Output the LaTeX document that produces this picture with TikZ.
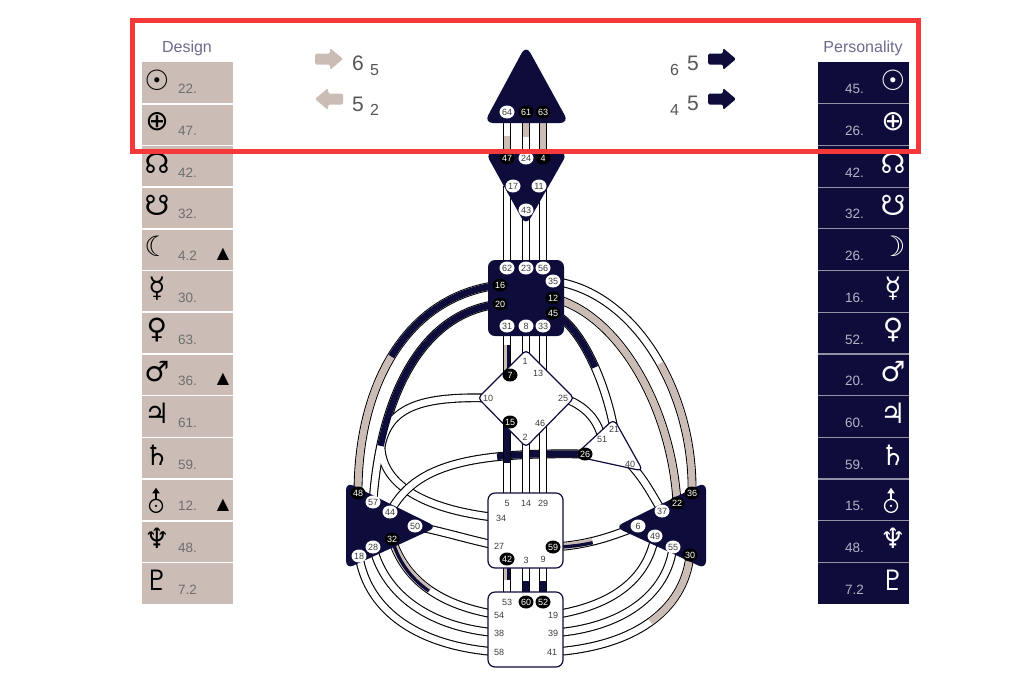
\documentclass[tikz,border=0pt]{standalone}
\usepackage{fontspec}
\setmainfont{Liberation Sans}
\newfontfamily\symfont{DejaVu Sans}
\usetikzlibrary{shapes.geometric}

\definecolor{navy}{HTML}{0D0C3B}
\definecolor{dtan}{HTML}{CBBDB5}
\definecolor{redbox}{HTML}{F5383A}
\definecolor{hdrgray}{HTML}{6C6B8C}
\definecolor{dnumgray}{HTML}{6E6E6E}
\definecolor{pnumgray}{HTML}{B4B3C6}
\definecolor{gatetext}{HTML}{3C3C3C}
\definecolor{arrowtext}{HTML}{555555}

\tikzset{
  tube/.style={line width=1.1pt, double=white, double distance=6.6pt},
  pfill/.style={navy, line width=6.6pt},
  dfill/.style={dtan, line width=6.6pt},
  pstripe/.style={navy, line width=3.3pt},
  dstripe/.style={dtan, line width=3.3pt},
  opencentre/.style={fill=white, draw=navy, line width=1.2pt},
  gatefont/.style={font=\fontsize{9}{10}\selectfont},
  gw/.style={ellipse, fill=white, minimum width=15pt, minimum height=13pt, inner sep=0pt, text=gatetext, gatefont},
  gb/.style={gw, fill=black, text=white},
  gt/.style={inner sep=0pt, text=gatetext, gatefont},
  hdr/.style={text=hdrgray, font=\fontsize{16}{18}\selectfont, anchor=base, inner sep=0pt},
  dsym/.style={text=black, font=\symfont\fontsize{28}{30}\selectfont, inner sep=0pt},
  psym/.style={text=white, font=\symfont\fontsize{28}{30}\selectfont, inner sep=0pt},
  dnum/.style={text=dnumgray, font=\fontsize{13.5}{15}\selectfont, anchor=base west, inner sep=0pt},
  pnum/.style={text=pnumgray, font=\fontsize{13.5}{15}\selectfont, anchor=base east, inner sep=0pt},
  tri/.style={font=\symfont\fontsize{16}{17}\selectfont, inner sep=0pt},
  anum/.style={text=arrowtext, font=\fontsize{21}{22}\selectfont, anchor=base west, inner sep=0pt},
  asub/.style={text=arrowtext, font=\fontsize{16}{17}\selectfont, anchor=base west, inner sep=0pt},
}

\begin{document}
\begin{tikzpicture}[x=1pt,y=-1pt]
\useasboundingbox (0,0) rectangle (1024,683);

% gate positions
\foreach \g/\x/\y in {64/507/112, 61/526/112, 63/543/112,
  47/507/158, 24/526/158, 4/543/158, 17/513/186, 11/539/186, 43/526/210,
  62/507/268, 23/526/268, 56/543/268, 35/553/281, 16/500/285, 12/553/298,
  20/500/304, 45/553/313, 31/507/326, 8/526/326, 33/543/326,
  1/525/361, 7/510/375, 13/538/373, 10/488/398, 25/563/398, 15/510/422,
  46/540/423, 2/525/437,
  21/614/429, 51/602/439, 26/585/454, 40/630/464,
  5/507/503, 14/526/503, 29/543/503, 34/501/518, 27/499/546, 42/507/559,
  3/526/560, 9/543/559, 59/553/547,
  53/507/602, 60/526/602, 52/543/602, 54/499/615, 19/553/615, 38/499/633,
  39/553/633, 58/499/652, 41/552/652,
  48/358/493, 57/373/502, 44/390/512, 50/415/526, 32/392/539, 28/373/547, 18/359/556,
  36/692/493, 22/677/503, 37/662/511, 6/638/526, 49/655/536, 55/673/547, 30/690/555}
  \coordinate (c\g) at (\x,\y);
\coordinate (jl) at (381,447);

% channels, left side
\draw[tube] (c16) .. controls (410,295) and (358,380) .. (c48);
\draw[dfill] (c16) .. controls (410,295) and (358,380) .. (c48);
\draw[pfill, dash pattern=on 135pt off 2000pt] (c16) .. controls (410,295) and (358,380) .. (c48);

\foreach \w/\col in {8.8/black,6.6/white}{
  \draw[\col, line width=\w pt] (c20) .. controls (420,312) and (380,400) .. (c57);
  \draw[\col, line width=\w pt] (c10) .. controls (415,396) and (388,410) .. (jl);
  \draw[\col, line width=\w pt] (jl) .. controls (383,492) and (440,512) .. (c34);
}
\draw[pfill, dash pattern=on 199pt off 2000pt] (c20) .. controls (420,312) and (380,400) .. (c57);

\draw[tube] (c44) .. controls (415,465) and (470,452) .. (c26);
\draw[pfill, dash pattern=on 88pt off 2000pt] (c26) .. controls (470,452) and (415,465) .. (c44);
\draw[tube] (c50) .. controls (445,532) and (470,540) .. (c27);

\draw[tube] (c32) .. controls (405,580) and (440,606) .. (c54);
\draw[dfill, dash pattern=on 65pt off 2000pt] (c32) .. controls (405,580) and (440,606) .. (c54);
\draw[pstripe, xshift=-1.2pt, yshift=-1.2pt, dash pattern=on 65pt off 2000pt] (c32) .. controls (405,580) and (440,606) .. (c54);
\draw[tube] (c28) .. controls (385,595) and (430,628) .. (c38);
\draw[tube] (c18) .. controls (368,612) and (420,647) .. (c58);

% channels, right side
\draw[tube] (c35) .. controls (635,292) and (694,392) .. (c36);
\draw[dfill, dash pattern=on 135pt off 2000pt] (c36) .. controls (694,392) and (635,292) .. (c35);
\draw[tube] (c12) .. controls (620,315) and (672,410) .. (c22);
\draw[dfill] (c12) .. controls (620,315) and (672,410) .. (c22);
\draw[tube] (c45) .. controls (580,325) and (605,380) .. (c21);
\draw[pfill, dash pattern=on 70pt off 2000pt] (c45) .. controls (580,325) and (605,380) .. (c21);
\draw[tube] (c25) .. controls (585,405) and (598,420) .. (c51);
\draw[tube] (c40) .. controls (645,480) and (652,495) .. (c37);
\draw[tube] (c59) .. controls (590,545) and (615,535) .. (c6);
\draw[dfill, dash pattern=on 40pt off 2000pt] (c59) .. controls (590,545) and (615,535) .. (c6);
\draw[pstripe, yshift=-2pt, dash pattern=on 40pt off 2000pt] (c59) .. controls (590,545) and (615,535) .. (c6);

\draw[tube] (c49) .. controls (647,580) and (612,606) .. (c19);
\draw[tube] (c55) .. controls (667,595) and (622,628) .. (c39);
\draw[tube] (c30) .. controls (684,612) and (632,647) .. (c41);
\draw[dfill, dash pattern=on 80pt off 2000pt] (c30) .. controls (684,612) and (632,647) .. (c41);

% channels, vertical
\draw[tube] (c64) -- (c47);
\draw[dfill] (507,136) -- (c47);
\draw[tube] (c61) -- (c24);
\draw[dfill] (c61) -- (526,137);
\draw[tube] (c63) -- (c4);
\draw[dfill] (c63) -- (c4);
\draw[tube] (c62 |- c17) -- (c62);
\draw[tube] (c43) -- (c23);
\draw[tube] (c56 |- c11) -- (c56);
\draw[tube] (c31) -- (c31 |- c7);
\draw[dstripe] (505.3,345) -- (505.3,375);
\draw[pstripe] (508.7,345) -- (508.7,375);
\draw[tube] (c8) -- (c8 |- c1);
\draw[tube] (c33) -- (c33 |- c13);
\draw[tube] (c5 |- c15) -- (c5);
\draw[pfill] (c5 |- c15) -- (507,463);
\draw[tube] (c14 |- c2) -- (c14);
\draw[tube] (c29 |- c46) -- (c29);
\draw[tube] (c42) -- (c53);
\draw[dstripe] (505.3,559) -- (505.3,580);
\draw[pstripe] (508.7,559) -- (508.7,580);
\draw[tube] (c3) -- (c60);
\draw[pfill] (526,581) -- (c60);
\draw[tube] (c9) -- (c52);
\draw[pfill] (543,581) -- (c52);

% centres
\fill[navy, rounded corners=9pt] (526,45) -- (569,123) -- (484,123) -- cycle;
\fill[navy, rounded corners=9pt] (485,152) -- (568,152) -- (526,226) -- cycle;
\fill[navy, rounded corners=7pt] (488,260) rectangle (564,336);
\draw[opencentre, rounded corners=4pt] (526,350) -- (574,398) -- (526,447) -- (478,398) -- cycle;
\draw[opencentre, rounded corners=6pt] (614,419) -- (643,471) -- (574,456) -- cycle;
\draw[opencentre, rounded corners=7pt] (488,493) rectangle (563,568);
\draw[opencentre, rounded corners=7pt] (488,592) rectangle (563,667);
\fill[navy, rounded corners=8pt] (346,482) -- (437,527) -- (346,569) -- cycle;
\fill[navy, rounded corners=8pt] (706,482) -- (615,527) -- (706,569) -- cycle;

% gates
\foreach \g in {64,24,17,11,43,62,23,56,35,31,8,33,57,44,50,28,18,37,6,49,55}
  \node[gw] (g\g) at (c\g) {\g};
\foreach \g in {61,63,47,4,16,20,12,45,48,32,36,22,30,7,15,26,42,59,60,52}
  \node[gb] (g\g) at (c\g) {\g};
\foreach \g in {1,13,10,25,46,2,21,51,40,5,14,29,34,27,3,9,53,54,19,38,39,58,41}
  \node[gt] (g\g) at (c\g) {\g};

% design column
\fill[dtan] (142,62) rectangle (233,604);
\foreach \i in {1,...,12}
  \draw[white, line width=1.6pt] (142,{62+41.7*\i}) -- (233,{62+41.7*\i});
\node[hdr] (design) at (187,52) {Design};
\foreach \i/\s/\n in {1/☉/22.,2/⊕/47.,3/☊/42.,4/☋/32.,5/☾/4.2,6/☿/30.,7/♀/63.,
  8/♂/36.,9/♃/61.,10/♄/59.,11//12.,12/♆/48.,13/♇/7.2}{
  \node[dsym] at (157,{62+41.7*(\i-0.5)-3}) {\s};
  \node[dnum] at (178,{62+41.7*(\i-0.5)+11}) {\n};
}
\foreach \i in {5,8,11}
  \node[tri] at (223,{62+41.7*(\i-0.5)+5}) {▲};

% personality column
\fill[navy] (818,62) rectangle (909,604);
\foreach \i in {1,...,12}
  \draw[white!55!navy, line width=1.2pt] (818,{62+41.7*\i}) -- (909,{62+41.7*\i});
\node[hdr] (personality) at (863,52) {Personality};
\foreach \i/\s/\n in {1/☉/45.,2/⊕/26.,3/☊/42.,4/☋/32.,5/☽/26.,6/☿/16.,7/♀/52.,
  8/♂/20.,9/♃/60.,10/♄/59.,11//15.,12/♆/48.,13/♇/7.2}{
  \node[psym] at (893,{62+41.7*(\i-0.5)-3}) {\s};
  \node[pnum] at (864,{62+41.7*(\i-0.5)+11}) {\n};
}

% uranus
\foreach \x/\col in {156/black,891/white}{
  \draw[\col, line width=1.3pt] (\x,{62+41.7*10.5+6}) circle (6.5);
  \fill[\col] (\x,{62+41.7*10.5+6}) circle (1.3);
  \draw[\col, line width=1.3pt] (\x,{62+41.7*10.5-0.5}) -- (\x,{62+41.7*10.5-8});
  \fill[\col] (\x,{62+41.7*10.5-12}) -- ({\x-3.8},{62+41.7*10.5-6.5}) -- ({\x+3.8},{62+41.7*10.5-6.5}) -- cycle;
}

% arrows
\foreach \x/\y/\d/\col in {329/59/1/dtan, 329/99/-1/dtan, 722/59/1/navy, 722/99/1/navy}
  \fill[\col, rounded corners=1.5pt] ({\x-14*(\d)},\y-5.5) -- ({\x+1*(\d)},\y-5.5) -- ({\x+1*(\d)},\y-11)
    -- ({\x+14*(\d)},\y) -- ({\x+1*(\d)},\y+11) -- ({\x+1*(\d)},\y+5.5) -- ({\x-14*(\d)},\y+5.5) -- cycle;
\node[anum] at (352,70) {6};
\node[asub] at (370,75) {5};
\node[anum] at (352,111) {5};
\node[asub] at (370,115) {2};
\node[asub] at (670,75) {6};
\node[anum] at (687,70) {5};
\node[asub] at (670,115) {4};
\node[anum] at (687,110) {5};

% frame
\draw[redbox, line width=5pt] (132.5,20.5) rectangle (918,151);
\end{tikzpicture}
\end{document}
